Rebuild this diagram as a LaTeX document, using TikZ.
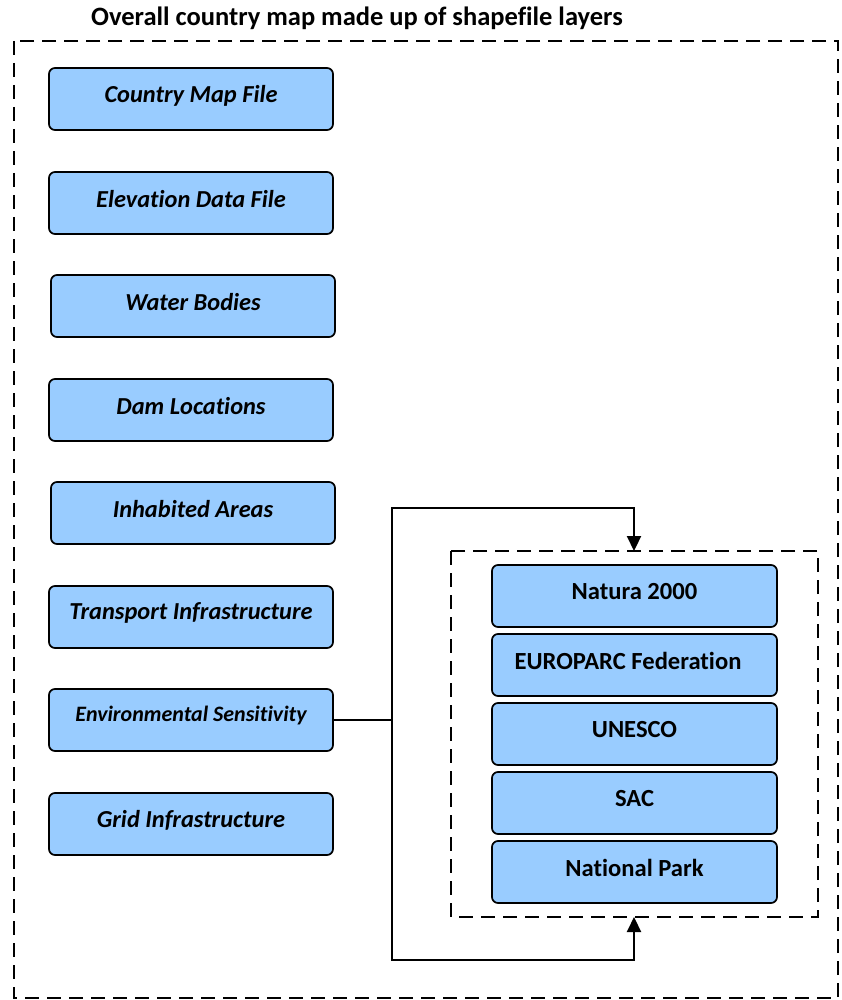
\documentclass[tikz,border=0pt]{standalone}
\usepackage{fontspec}
\setmainfont[Ligatures=NoCommon]{Carlito}
\usetikzlibrary{arrows.meta}
\definecolor{boxblue}{HTML}{99CCFF}
\begin{document}
\begin{tikzpicture}[x=1pt,y=-1pt,
  layer/.style={draw=black,line width=1.7pt,fill=boxblue,rounded corners=6pt,inner sep=0pt},
  frame/.style={draw=black,line width=2.4pt,dash pattern=on 14pt off 8pt},
  conn/.style={draw=black,line width=2.2pt},
  tip/.style={-{Triangle[length=15pt,width=14pt]}},
  lbl/.style={font=\bfseries\itshape\fontsize{24.4}{28}\selectfont},
  ilbl/.style={font=\bfseries\fontsize{24.6}{28}\selectfont}]
\useasboundingbox (0,0) rectangle (842,1000);
\node[font=\bfseries\fontsize{26.5}{30}\selectfont,anchor=center] (title) at (357,18) {Overall country map made up of shapefile layers};
\draw[frame] (14,41) rectangle (838,998);
% left layers
\draw[layer] (49,68) rectangle (333,130); \node[lbl] (l1) at (191,96) {Country Map File};
\draw[layer] (49,172) rectangle (333,234); \node[lbl] (l2) at (191,199) {Elevation Data File};
\draw[layer] (51,275) rectangle (335,337); \node[lbl] (l3) at (193,302) {Water Bodies};
\draw[layer] (49,379) rectangle (333,441); \node[lbl] (l4) at (191,406) {Dam Locations};
\draw[layer] (51,482) rectangle (335,544); \node[lbl] (l5) at (193,509) {Inhabited Areas};
\draw[layer] (49,586) rectangle (333,648); \node[lbl] (l6) at (191,613) {Transport Infrastructure};
\draw[layer] (49,689) rectangle (333,751); \node[font=\bfseries\itshape\fontsize{22}{26}\selectfont] (l7) at (191,716) {Environmental Sensitivity};
\coordinate (l7e) at (333,720);
\draw[layer] (49,793) rectangle (333,855); \node[lbl] (l8) at (191,820) {Grid Infrastructure};
% inner group
\draw[frame] (451,551) rectangle (818,917);
\coordinate (gtop) at (634,551);
\coordinate (gbot) at (634,917);
\draw[layer] (492,565) rectangle (777,627); \node[ilbl] (r1) at (634.5,592) {Natura 2000};
\draw[layer] (492,634) rectangle (777,696); \node[ilbl] (r2) at (628,661) {EUROPARC Federation};
\draw[layer] (492,703) rectangle (777,765); \node[ilbl] (r3) at (634.5,730) {UNESCO};
\draw[layer] (492,772) rectangle (777,834); \node[ilbl] (r4) at (634.5,799) {SAC};
\draw[layer] (492,841) rectangle (777,903); \node[ilbl] (r5) at (634.5,868) {National Park};
% connectors
\coordinate (j) at (392,720);
\draw[conn] (l7e) -- (j);
\draw[conn,tip] (j) |- (392,508) -| (gtop);
\draw[conn,tip] (j) |- (392,960) -| (gbot);
\end{tikzpicture}
\end{document}
